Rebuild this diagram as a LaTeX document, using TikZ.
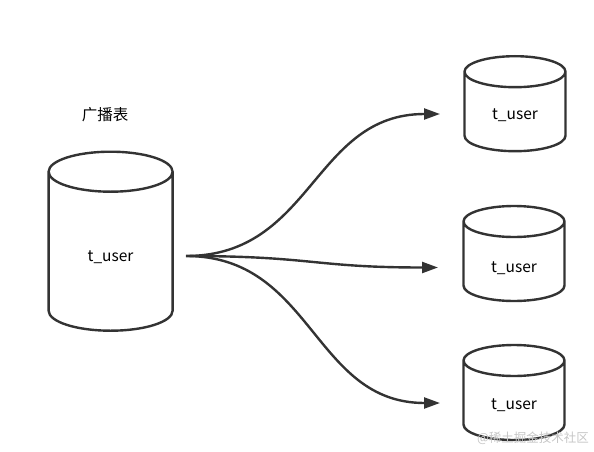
\documentclass[tikz,border=0pt]{standalone}
\usepackage{fontspec}
\setmainfont{Noto Sans CJK SC}
\usetikzlibrary{arrows.meta}
\definecolor{ink}{HTML}{333333}
% outline of a table: node name, x radius, y radius
\newcommand\tblshape[3]{%
  \draw[tblline] ([yshift=-#3]#1.north west) -- ([yshift=#3]#1.south west)
    arc[start angle=180, end angle=360, x radius=#2, y radius=#3]
    -- ([yshift=-#3]#1.north east)
    arc[start angle=0, end angle=360, x radius=#2, y radius=#3];}
\begin{document}
\begin{tikzpicture}[x=1pt,y=-1pt,%
% common options for the tables:
tbl/.style = {rectangle, inner sep=0, outer sep=0,
            minimum width=101pt, minimum height=95pt},
tblline/.style = {draw=ink, line width=2.4pt, line join=round},
% common options for the links:
link/.style = {draw=ink, line width=2.4pt, -{Triangle[length=16pt,width=11pt]}},
font=\fontsize{15.5}{18}\selectfont]
\useasboundingbox (0,0) rectangle (594,452);
\node (title) at (105,115) {广播表};
\node[tbl, minimum width=124pt, minimum height=179pt,
      label={[yshift=-15.5pt]center:t\_user}] (src) at (110.6,241.2) {};
\node[tbl, label={[yshift=-11.3pt]center:t\_user}] (db1) at (515,103.7) {};
\node[tbl, label={[yshift=-14.5pt]center:t\_user}] (db2) at (514,253.5) {};
\node[tbl, label={[yshift=-12.5pt]center:t\_user}] (db3) at (514,392.5) {};
\tblshape{src}{62pt}{20pt}
\tblshape{db1}{50.5pt}{15.5pt}
\tblshape{db2}{50.5pt}{15.5pt}
\tblshape{db3}{50.5pt}{15.5pt}
\node[text=gray!45, font=\fontsize{12.5}{14}\selectfont] (mark) at (533,438) {@稀土掘金技术社区};
\coordinate (fork) at (186,256);
\coordinate (in1) at (440,114);
\coordinate (in2) at (438,267.5);
\coordinate (in3) at (440,403);
\draw[link] (fork) .. controls (313,256) and (313,114) .. (in1);
\draw[link] (fork) .. controls (313,256) and (313,267.5) .. (in2);
\draw[link] (fork) .. controls (313,256) and (313,403) .. (in3);
\end{tikzpicture}
\end{document}
